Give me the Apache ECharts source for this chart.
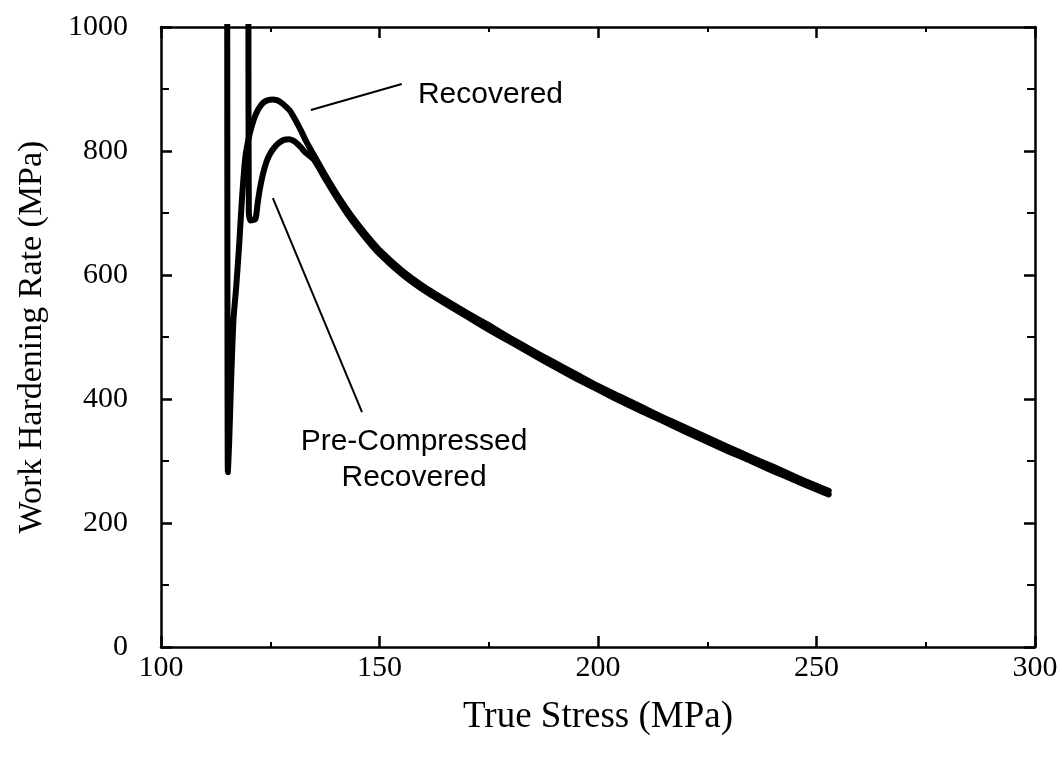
<!DOCTYPE html>
<html>
<head>
<meta charset="utf-8">
<script src="https://cdn.jsdelivr.net/npm/echarts@6/dist/echarts.min.js"></script>
<style>
  html, body { margin: 0; padding: 0; background: #fff; }
  #chart { width: 1062px; height: 767px; }
</style>
</head>
<body>
<div id="chart"></div>
<script>
// Work hardening rate vs true stress, two heat-treatment histories
const recoveredStress = [115.15, 115.2, 115.3, 115.6, 116.0, 116.3, 116.6, 117.2, 117.9, 118.5, 119.3, 120.3, 121.2, 122.0, 122.8, 123.6, 124.5, 125.5, 126.5, 127.5, 128.5, 129.5, 130.6, 131.8, 133.2, 135, 137.5, 140, 142.5, 145, 147.5, 150, 155, 160, 165, 170, 175, 180, 185, 190, 195, 200, 205, 210, 215, 220, 225, 230, 235, 240, 245, 250, 252.8];
const recoveredRate   = [1050, 600, 282, 330, 420, 480, 530, 580, 650, 720, 790, 828, 850, 864, 873, 879, 882, 883, 882, 878, 872, 865, 852, 836, 816, 793, 762, 733, 706, 682, 660, 640, 608, 582, 560, 539, 519, 498, 478, 459, 440, 421, 404, 387, 370, 354, 338, 322, 306, 291, 275, 260, 252];

const preCompStress = [120.0, 120.1, 120.5, 121.6, 122.1, 122.6, 123.3, 124.1, 125, 126, 127, 128.1, 129.3, 130.2, 131, 132, 133, 135, 137.5, 140, 142.5, 145, 147.5, 150, 155, 160, 165, 170, 175, 180, 185, 190, 195, 200, 205, 210, 215, 220, 225, 230, 235, 240, 245, 250, 252.8];
const preCompRate   = [1050, 700, 688, 690, 715, 738, 762, 782, 796, 806, 813, 818, 819, 817, 813, 806, 798, 786, 756, 727, 700, 676, 654, 634, 602, 576, 554, 533, 512, 492, 472, 452, 433, 415, 397, 380, 364, 347, 331, 315, 300, 284, 269, 254, 246];

// annotation leaders and captions, in data units [stress, rate]
const recoveredLeader = [[134.3, 866], [155.1, 908]];
const preCompLeader   = [[125.6, 724], [146.0, 379]];
const recoveredCaptionAt = [158.8, 890];
const preCompCaptionAt   = [157.9, 302];

const xTicks = { min: 100, max: 300, step: 50 };
const yTicks = { min: 0, max: 1000, step: 200 };

const zip = (xs, ys) => xs.map((x, i) => [x, ys[i]]);

const serif = 'Liberation Serif';
const sans = 'Liberation Sans';

const axisLine = { show: true, onZero: false, lineStyle: { color: '#000', width: 2.5 } };

function xAxisDef(pos, showLabels) {
  return {
    type: 'value', position: pos,
    min: xTicks.min, max: xTicks.max, interval: xTicks.step,
    axisLine,
    axisTick: { show: true, inside: true, length: 11, lineStyle: { color: '#000', width: 2.5 } },
    minorTick: { show: true, splitNumber: 2, length: 5, lineStyle: { color: '#000', width: 2 } },
    splitLine: { show: false },
    axisLabel: { show: showLabels, color: '#000', fontFamily: serif, fontSize: 30, margin: 6,
                 formatter: v => String(v) },
    name: showLabels ? 'True Stress (MPa)' : '',
    nameLocation: 'middle', nameGap: 52,
    nameTextStyle: { color: '#000', fontFamily: serif, fontSize: 37 }
  };
}
function yAxisDef(pos, showLabels) {
  return {
    type: 'value', position: pos,
    min: yTicks.min, max: yTicks.max, interval: yTicks.step,
    axisLine,
    axisTick: { show: true, inside: true, length: 11, lineStyle: { color: '#000', width: 2.5 } },
    minorTick: { show: true, splitNumber: 2, length: 8, lineStyle: { color: '#000', width: 2 } },
    splitLine: { show: false },
    axisLabel: { show: showLabels, color: '#000', fontFamily: serif, fontSize: 30, margin: 33,
                 formatter: v => String(v) },
    name: showLabels ? 'Work Hardening Rate (MPa)' : '',
    nameLocation: 'middle', nameGap: 112,
    nameTextStyle: { color: '#000', fontFamily: serif, fontSize: 34 }
  };
}

const chart = echarts.init(document.getElementById('chart'), null, { renderer: 'canvas' });

const leaderStyle = { color: '#000', width: 2, type: 'solid' };

chart.setOption({
  animation: false,
  backgroundColor: '#fff',
  grid: { left: 161, right: 27, top: 27, bottom: 120, containLabel: false },
  xAxis: [xAxisDef('bottom', true), xAxisDef('top', false)],
  yAxis: [yAxisDef('left', true), yAxisDef('right', false)],
  series: [
    {
      name: 'Recovered', type: 'line', data: zip(recoveredStress, recoveredRate),
      showSymbol: false, clip: true, smooth: 0.2,
      lineStyle: { color: '#000', width: 6, join: 'round', cap: 'round' },
      markLine: {
        silent: true, symbol: ['none', 'none'], label: { show: false },
        lineStyle: leaderStyle,
        data: [[{ coord: recoveredLeader[0] }, { coord: recoveredLeader[1] }]]
      }
    },
    {
      name: 'Pre-Compressed Recovered', type: 'line', data: zip(preCompStress, preCompRate),
      showSymbol: false, clip: true, smooth: 0.2,
      lineStyle: { color: '#000', width: 6, join: 'round', cap: 'round' },
      markLine: {
        silent: true, symbol: ['none', 'none'], label: { show: false },
        lineStyle: leaderStyle,
        data: [[{ coord: preCompLeader[0] }, { coord: preCompLeader[1] }]]
      }
    }
  ]
});

// captions placed at data positions
const p1 = chart.convertToPixel({ xAxisIndex: 0, yAxisIndex: 0 }, recoveredCaptionAt);
const p2 = chart.convertToPixel({ xAxisIndex: 0, yAxisIndex: 0 }, preCompCaptionAt);
chart.setOption({
  graphic: [
    { type: 'text', x: p1[0], y: p1[1],
      style: { text: 'Recovered', fill: '#000', font: '30px "' + sans + '"', textAlign: 'left', textVerticalAlign: 'middle' } },
    { type: 'text', x: p2[0], y: p2[1],
      style: { text: 'Pre-Compressed\nRecovered', fill: '#000', font: '30px "' + sans + '"', textAlign: 'center', textVerticalAlign: 'middle', lineHeight: 36 } }
  ]
});
</script>
</body>
</html>
